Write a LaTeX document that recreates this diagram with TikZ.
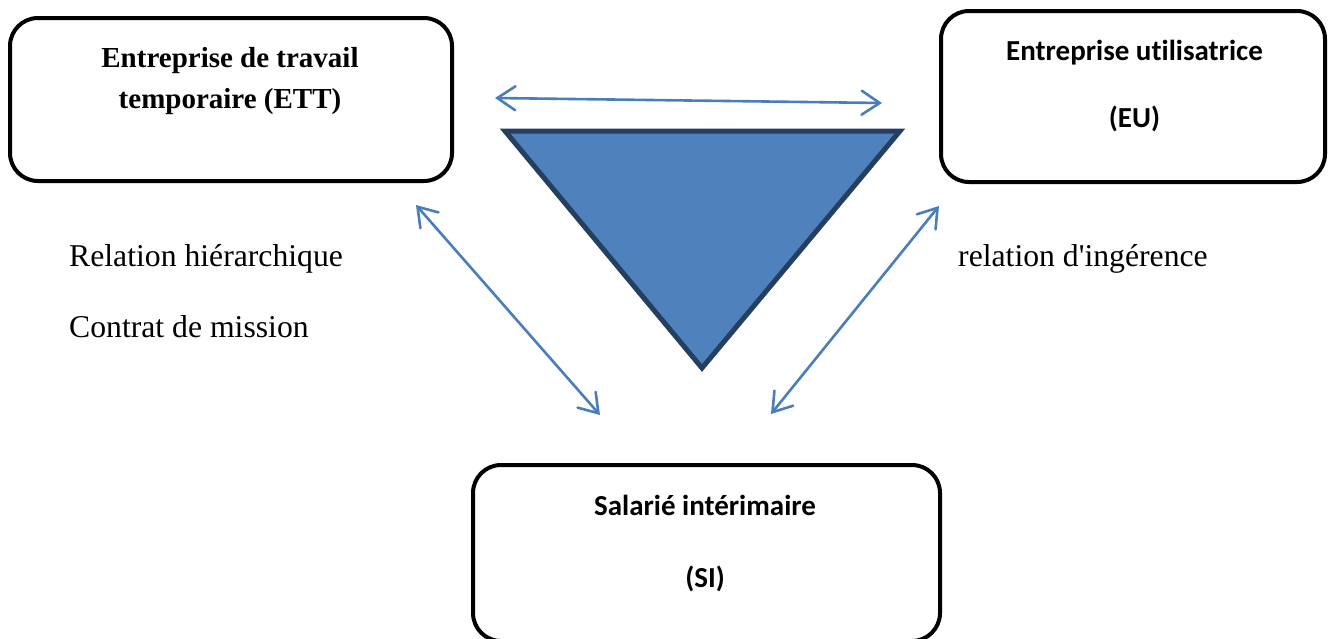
\documentclass[tikz,border=0pt]{standalone}
\usepackage{fontspec}
\setmainfont{Liberation Serif}[Ligatures=TeXOff]
\newfontfamily\calib{Carlito}[Ligatures=NoCommon]
\usetikzlibrary{arrows.meta}
\definecolor{arrowblue}{HTML}{4A7EBB}
\definecolor{trifill}{HTML}{4F81BD}
\definecolor{tristroke}{HTML}{243F60}
\tikzset{
  boxstyle/.style={draw=black, line width=4pt, rounded corners=28pt, inner sep=0pt},
  serifbold/.style={font=\fontsize{29}{34}\selectfont\bfseries, anchor=base, inner sep=0pt},
  calibbold/.style={font=\calib\fontsize{29}{34}\selectfont\bfseries, anchor=base, inner sep=0pt},
  labeltext/.style={font=\fontsize{31.7}{36}\selectfont, anchor=base west, inner sep=0pt},
  relarrow/.style={draw=arrowblue, line width=2.6pt,
    {Straight Barb[length=18pt,width=24pt,line cap=round]}-{Straight Barb[length=18pt,width=24pt,line cap=round]}}
}
\begin{document}
\begin{tikzpicture}[x=1pt,y=-1pt]
\useasboundingbox (0,0) rectangle (1331,638);
% boxes
\node[boxstyle, minimum width=442pt, minimum height=163pt] (ett) at (231,99.5) {};
\node[boxstyle, minimum width=384pt, minimum height=171pt] (eu) at (1133,96.5) {};
\node[boxstyle, minimum width=467pt, minimum height=176pt] (si) at (706.5,553) {};
% box texts
\node[serifbold] (ett1) at (230,67) {Entreprise de travail};
\node[serifbold] (ett2) at (230,108) {temporaire (ETT)};
\node[calibbold] (eu1) at (1134.5,60) {Entreprise utilisatrice};
\node[calibbold] (eu2) at (1134.5,127) {(EU)};
\node[calibbold] (si1) at (705,515) {Salarié intérimaire};
\node[calibbold] (si2) at (705,587) {(SI)};
% triangle
\coordinate (t1) at (505,131);
\coordinate (t2) at (900,131);
\coordinate (t3) at (702,368);
\draw[fill=trifill, draw=tristroke, line width=5pt, line join=miter] (t1) -- (t2) -- (t3) -- cycle;
% arrows
\coordinate (a1) at (495,98);
\coordinate (a2) at (882,103);
\coordinate (b1) at (416,205);
\coordinate (b2) at (600,415);
\coordinate (c1) at (939,206);
\coordinate (c2) at (771,414);
\draw[relarrow] (a1) -- (a2);
\draw[relarrow] (b1) -- (b2);
\draw[relarrow] (c1) -- (c2);
% labels
\node[labeltext] (rh) at (69,266) {Relation hiérarchique};
\node[labeltext] (cm) at (69,337) {Contrat de mission};
\node[labeltext] (ri) at (958,266) {relation d'ingérence};
\end{tikzpicture}
\end{document}
